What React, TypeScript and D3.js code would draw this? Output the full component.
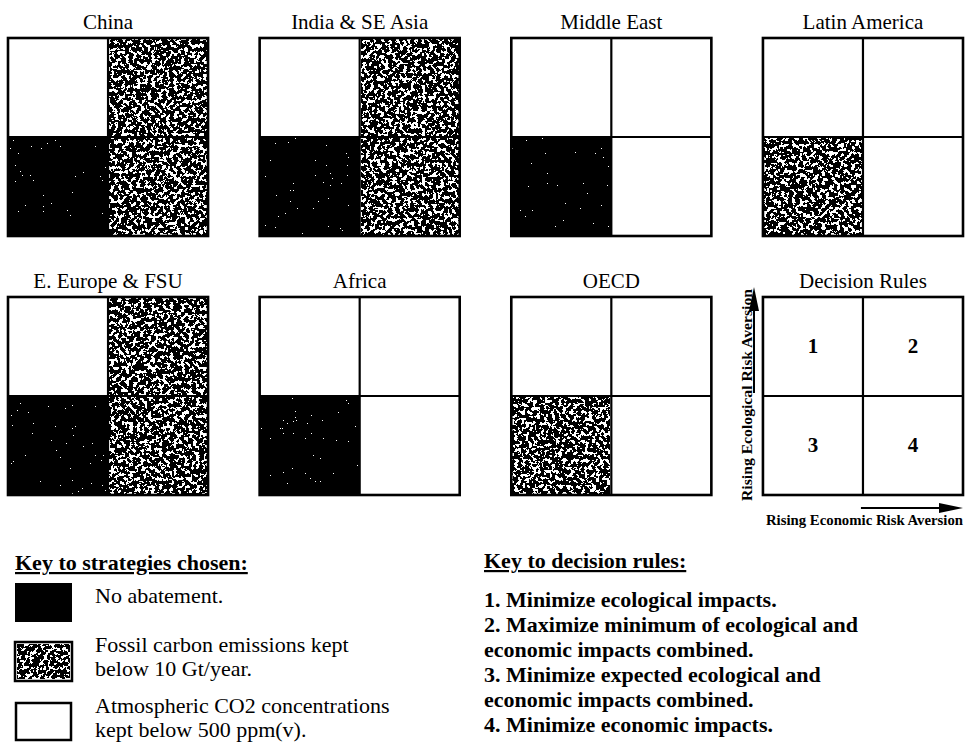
import React from "react";
import * as d3 from "d3";

// ---------- data ----------
const regionNames = [
  "China",
  "India & SE Asia",
  "Middle East",
  "Latin America",
  "E. Europe & FSU",
  "Africa",
  "OECD",
];
// strategy chosen in each decision-rule cell: [rule1 (TL), rule2 (TR), rule3 (BL), rule4 (BR)]
// none = No abatement, emis = emissions kept below 10 Gt/yr, conc = CO2 kept below 500 ppm
const chinaCells = ["conc", "emis", "none", "emis"];
const indiaCells = ["conc", "emis", "none", "emis"];
const middleEastCells = ["conc", "conc", "none", "conc"];
const latinAmericaCells = ["conc", "conc", "emis", "conc"];
const eEuropeCells = ["conc", "emis", "none", "emis"];
const africaCells = ["conc", "conc", "none", "conc"];
const oecdCells = ["conc", "conc", "emis", "conc"];
const regionCells = [
  chinaCells,
  indiaCells,
  middleEastCells,
  latinAmericaCells,
  eEuropeCells,
  africaCells,
  oecdCells,
];

const decisionTitle = "Decision Rules";
const decisionRuleNumbers = ["1", "2", "3", "4"];
const ecoAxisLabel = "Rising Ecological Risk Aversion";
const econAxisLabel = "Rising Economic Risk Aversion";

const strategyKeyTitle = "Key to strategies chosen:";
const strategyKeyCodes = ["none", "emis", "conc"];
const strategyKeyTexts = [
  ["No abatement."],
  ["Fossil carbon emissions kept", "below 10 Gt/year."],
  ["Atmospheric CO2 concentrations", "kept below 500 ppm(v)."],
];

const ruleKeyTitle = "Key to decision rules:";
const ruleKeyLines = [
  "1. Minimize ecological impacts.",
  "2. Maximize minimum of ecological and",
  "economic impacts combined.",
  "3. Minimize expected ecological and",
  "economic impacts combined.",
  "4. Minimize economic impacts.",
];

// ---------- layout ----------
const W = 966;
const H = 742;
const SERIF = "'Liberation Serif', 'Times New Roman', serif";

const colX = d3.scaleBand<number>().domain(d3.range(4)).range([8, 963]).paddingInner(0.205);
const rowY = d3.scaleBand<number>().domain(d3.range(2)).range([38, 495]).paddingInner(0.2355);

function Cell({ x, y, w, h, code }: any) {
  if (code === "none")
    return <rect x={x} y={y} width={w} height={h} fill="#000" filter="url(#dark)" />;
  if (code === "emis")
    return (
      <g>
        <rect x={x} y={y} width={w} height={h} fill="#fff" />
        <rect x={x + 1.5} y={y + 1.5} width={w - 3} height={h - 3} fill="#000" filter="url(#stipple)" />
      </g>
    );
  return <rect x={x} y={y} width={w} height={h} fill="#fff" />;
}

function Panel({ i, title, cells, labels }: any) {
  const col = i % 4;
  const row = Math.floor(i / 4);
  const x0 = colX(col)!;
  const y0 = rowY(row)!;
  const w = colX.bandwidth();
  const h = rowY.bandwidth();
  const cx = d3.scaleBand<number>().domain([0, 1]).range([x0, x0 + w]);
  const cy = d3.scaleBand<number>().domain([0, 1]).range([y0, y0 + h]);
  return (
    <g>
      <text
        x={x0 + w / 2}
        y={y0 - 9}
        textAnchor="middle"
        fontFamily={SERIF}
        fontSize={21}
        fill="#000"
      >
        {title}
      </text>
      {d3.range(4).map((k) => {
        const c = k % 2;
        const r = Math.floor(k / 2);
        return cells ? (
          <Cell key={k} x={cx(c)} y={cy(r)} w={cx.bandwidth()} h={cy.bandwidth()} code={cells[k]} />
        ) : (
          <g key={k}>
            <rect x={cx(c)} y={cy(r)} width={cx.bandwidth()} height={cy.bandwidth()} fill="#fff" />
            <text
              x={cx(c)! + cx.bandwidth() / 2}
              y={cy(r)! + cy.bandwidth() / 2 + 7}
              textAnchor="middle"
              fontFamily={SERIF}
              fontWeight="bold"
              fontSize={21}
            >
              {labels[k]}
            </text>
          </g>
        );
      })}
      <line x1={cx(1)} x2={cx(1)} y1={y0} y2={y0 + h} stroke="#000" strokeWidth={2.2} />
      <line x1={x0} x2={x0 + w} y1={cy(1)} y2={cy(1)} stroke="#000" strokeWidth={2.2} />
      <rect x={x0} y={y0} width={w} height={h} fill="none" stroke="#000" strokeWidth={2.6} />
    </g>
  );
}

export default function App() {
  const dx0 = colX(3)!;
  const dy0 = rowY(1)!;
  const dw = colX.bandwidth();
  const dh = rowY.bandwidth();
  return (
    <svg
      width={W}
      height={H}
      viewBox={`0 0 ${W} ${H}`}
      style={{ position: "absolute", left: 0, top: 0, background: "#fff" }}
    >
      <defs>
        <filter id="stipple" x="0" y="0" width="1" height="1" colorInterpolationFilters="sRGB">
          <feFlood floodColor="#fff" result="bg" />
          <feTurbulence type="fractalNoise" baseFrequency="0.27" numOctaves={3} seed={7} result="noise" />
          <feColorMatrix
            in="noise"
            type="matrix"
            values="0 0 0 0 0  0 0 0 0 0  0 0 0 0 0  -1 0 0 0 1.05"
            result="a"
          />
          <feComponentTransfer in="a" result="ink">
            <feFuncA type="discrete" tableValues="0 1" />
          </feComponentTransfer>
          <feMerge>
            <feMergeNode in="bg" />
            <feMergeNode in="ink" />
          </feMerge>
        </filter>
        <filter id="dark" x="0" y="0" width="1" height="1" colorInterpolationFilters="sRGB">
          <feFlood floodColor="#fff" result="bg" />
          <feTurbulence type="fractalNoise" baseFrequency="0.6" numOctaves={2} seed={3} result="noise" />
          <feColorMatrix
            in="noise"
            type="matrix"
            values="0 0 0 0 0  0 0 0 0 0  0 0 0 0 0  -1 0 0 0 1.3"
            result="a"
          />
          <feComponentTransfer in="a" result="ink">
            <feFuncA type="discrete" tableValues="0 1" />
          </feComponentTransfer>
          <feMerge>
            <feMergeNode in="bg" />
            <feMergeNode in="ink" />
          </feMerge>
        </filter>
      </defs>
      <rect x={0} y={0} width={W} height={H} fill="#fff" />

      {regionNames.map((name, i) => (
        <Panel key={name} i={i} title={name} cells={regionCells[i]} />
      ))}
      <Panel i={7} title={decisionTitle} labels={decisionRuleNumbers} />

      {/* decision-rule axes */}
      <text
        transform={`translate(752,${dy0 + dh + 6}) rotate(-90)`}
        fontFamily={SERIF}
        fontWeight="bold"
        fontSize={15}
        textLength={dh + 14}
        lengthAdjust="spacingAndGlyphs"
      >
        {ecoAxisLabel}
      </text>
      <line x1={754} x2={754} y1={dy0 + 96} y2={dy0 + 14} stroke="#000" strokeWidth={2} />
      <path d={`M754,${dy0 - 10} L749,${dy0 + 14} L759,${dy0 + 14} Z`} fill="#000" />

      <line x1={dx0 + 98} x2={dx0 + dw - 24} y1={dy0 + dh + 13} y2={dy0 + dh + 13} stroke="#000" strokeWidth={2} />
      <path
        d={`M${dx0 + dw},${dy0 + dh + 13} L${dx0 + dw - 24},${dy0 + dh + 8} L${dx0 + dw - 24},${dy0 + dh + 18} Z`}
        fill="#000"
      />
      <text
        x={dx0 + 3}
        y={dy0 + dh + 30}
        fontFamily={SERIF}
        fontWeight="bold"
        fontSize={15}
        textLength={dw - 3}
        lengthAdjust="spacingAndGlyphs"
      >
        {econAxisLabel}
      </text>

      {/* key to strategies */}
      <text x={15} y={570} fontFamily={SERIF} fontWeight="bold" fontSize={22} textDecoration="underline">
        {strategyKeyTitle}
      </text>
      {strategyKeyCodes.map((code, i) => {
        const sy = [583, 642, 702][i];
        const ty = [603, 652, 713][i];
        return (
          <g key={code}>
            {code === "none" && <rect x={15} y={sy} width={57} height={39} fill="#000" />}
            {code === "emis" && (
              <g>
                <rect x={15} y={sy} width={57} height={39} fill="#fff" stroke="#000" strokeWidth={2.5} />
                <rect x={17} y={sy + 2} width={53} height={35} fill="#000" filter="url(#stipple)" />
              </g>
            )}
            {code === "conc" && (
              <rect x={16} y={sy + 1} width={55} height={37} fill="#fff" stroke="#000" strokeWidth={2.5} />
            )}
            {strategyKeyTexts[i].map((t, j) => (
              <text key={j} x={95} y={ty + j * 24} fontFamily={SERIF} fontSize={22}>
                {t}
              </text>
            ))}
          </g>
        );
      })}

      {/* key to decision rules */}
      <text x={484} y={568} fontFamily={SERIF} fontWeight="bold" fontSize={22} textDecoration="underline">
        {ruleKeyTitle}
      </text>
      {ruleKeyLines.map((t, i) => (
        <text key={i} x={484} y={607 + i * 25} fontFamily={SERIF} fontWeight="bold" fontSize={22}>
          {t}
        </text>
      ))}
    </svg>
  );
}
